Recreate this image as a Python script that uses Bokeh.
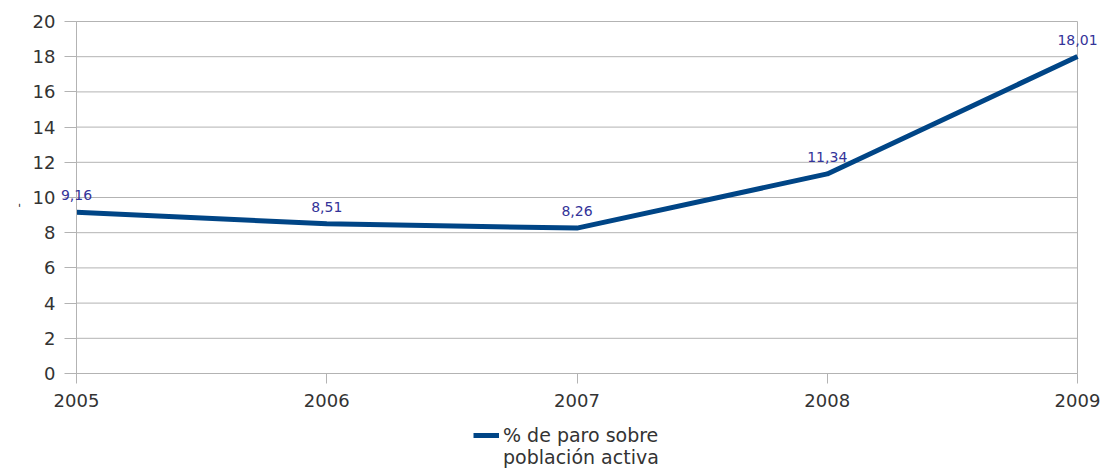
from bokeh.plotting import figure
from bokeh.models import ColumnDataSource, LabelSet, Legend, LegendItem, FixedTicker, Title
from bokeh.core.properties import value
from bokeh.embed import file_html
from bokeh.resources import INLINE

years = [2005, 2006, 2007, 2008, 2009]
paro = [9.16, 8.51, 8.26, 11.34, 18.01]
y_ticks = [0, 2, 4, 6, 8, 10, 12, 14, 16, 18, 20]
legend_lines = ["% de paro sobre", "población activa"]
y_title = "-"

labels = [f"{v:.2f}".replace(".", ",") for v in paro]
src = ColumnDataSource(dict(x=years, y=paro, lab=labels))

GRID = "#b3b3b3"
FONT = "DejaVu Sans"
TXT = "#333333"

p = figure(width=1103, height=468, output_backend="svg", toolbar_location=None,
           x_axis_location="above",
           x_range=(2004.7842, 2009.1039), y_range=(-5.3977, 21.1932),
           min_border_left=22, min_border_right=0, min_border_top=0, min_border_bottom=0)
p.outline_line_color = None
p.background_fill_color = "white"
p.border_fill_color = "white"
p.xgrid.visible = False
p.ygrid.visible = False

# grid lines and frame box, limited to the data region
p.segment(x0=years[0], x1=years[-1], y0=y_ticks, y1=y_ticks, line_color=GRID, line_width=1)
p.segment(x0=[years[0], years[-1]], x1=[years[0], years[-1]],
          y0=y_ticks[0], y1=y_ticks[-1], line_color=GRID, line_width=1)

r = p.line("x", "y", source=src, line_color="#004586", line_width=5)
r_blank = p.line("x", "y", source=src, line_color="#004586", line_alpha=0)

p.xaxis.ticker = FixedTicker(ticks=years)
p.yaxis.ticker = FixedTicker(ticks=y_ticks)
for ax in (p.xaxis, p.yaxis):
    ax.axis_line_color = GRID
    ax.major_tick_line_color = GRID
    ax.minor_tick_line_color = None
    ax.major_label_text_font = FONT
    ax.major_label_text_font_size = "18px"
    ax.major_label_text_color = TXT

# x axis drawn at y = 0, ticks and labels below the line
p.xaxis.fixed_location = y_ticks[0]
p.xaxis.bounds = (years[0], years[-1])
p.xaxis.major_tick_in = 10
p.xaxis.major_tick_out = 0
p.xaxis.major_label_standoff = -33

# y axis drawn at x = 2005
p.yaxis.fixed_location = years[0]
p.yaxis.bounds = (y_ticks[0], y_ticks[-1])
p.yaxis.major_tick_in = 0
p.yaxis.major_tick_out = 12
p.yaxis.major_label_standoff = 9

p.add_layout(Title(text=y_title, align="left", offset=261, text_font=FONT,
                   text_font_size="12px", text_font_style="normal",
                   text_color=TXT, standoff=0), "left")

ls = LabelSet(x="x", y="y", text="lab", source=src, text_align="center",
              text_baseline="alphabetic", y_offset=12, text_color="#333399",
              text_font=value(FONT), text_font_size="14px", level="overlay")
p.add_layout(ls)

legend = Legend(items=[LegendItem(label=legend_lines[0], renderers=[r]),
                       LegendItem(label=legend_lines[1], renderers=[r_blank])],
                location=(451, 0), orientation="vertical", border_line_color=None,
                background_fill_alpha=0,
                label_text_font=FONT, label_text_font_size="19px",
                label_text_color=TXT, glyph_width=26, glyph_height=20,
                label_height=20, label_standoff=4,
                padding=0, margin=0, spacing=0)
p.add_layout(legend, "center")

open("out.html", "w").write(file_html(p, INLINE))
